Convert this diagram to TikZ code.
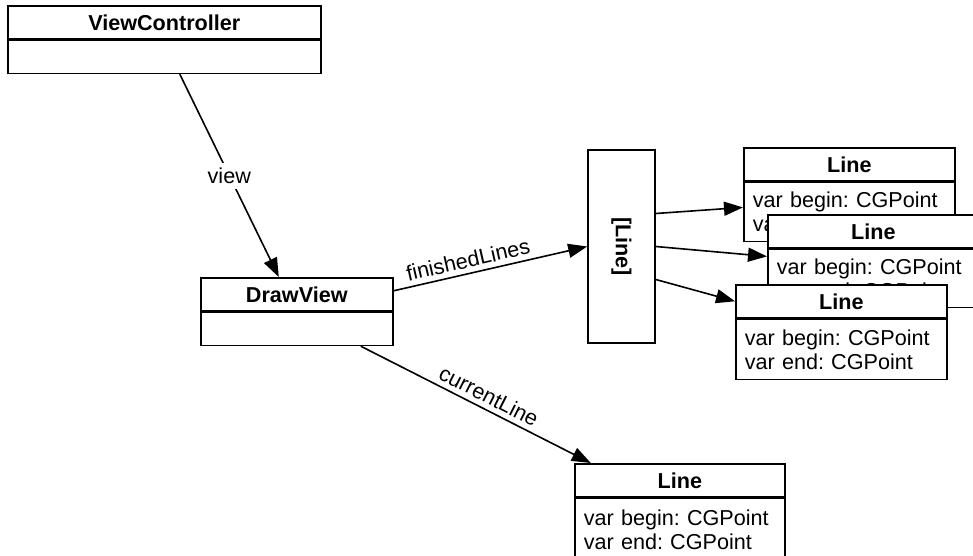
\documentclass[tikz,border=0pt]{standalone}
\usepackage{fontspec}
\setmainfont{Liberation Sans}
\frenchspacing
\usetikzlibrary{positioning,calc,arrows.meta}

\begin{document}
\begin{tikzpicture}[x=0.5pt, y=-0.5pt,
    every node/.style={font=\fontsize{10.8}{12}\selectfont},
    head/.style={draw, fill=white, rectangle, line width=0.8pt, minimum height=16.5pt, inner sep=0pt, font=\fontsize{10.8}{12}\selectfont\bfseries, anchor=north west},
    body/.style={draw, fill=white, rectangle, line width=0.8pt, inner xsep=4.5pt, inner ysep=0pt, align=left},
    arr/.style={-{Triangle[length=9.5pt,width=7pt]}, line width=0.8pt},
    lbl/.style={inner sep=2.5pt}
]
    \useasboundingbox (0,0) rectangle (973,556);
    \clip (0,0) rectangle (973,556);
    \fill[white] (0,0) rectangle (973,556);

    % ViewController
    \node[head, minimum width=156.5pt] (vchead) at (7,5) {ViewController};
    \node[body, minimum width=156.5pt, minimum height=16.5pt, below=0pt of vchead] (vcbody) {};

    % DrawView
    \node[head, minimum width=96pt] (dvhead) at (200,277) {DrawView};
    \node[body, minimum width=96pt, minimum height=16.5pt, below=0pt of dvhead] (dvbody) {};

    % array of lines
    \node[draw, line width=0.8pt, minimum width=33.5pt, minimum height=96.5pt, inner sep=0pt, font=\fontsize{10.8}{12}\selectfont\bfseries] (lst) at (621.5,246.5) {\rotatebox{-90}{[Line]}};

    % Line objects in the array
    \node[head, minimum width=105.5pt] (l1head) at (743,147) {Line};
    \node[body, text width=96.5pt, minimum height=29.5pt, below=0pt of l1head] (l1body) {var begin: CGPoint\\var end: CGPoint};
    \node[head, minimum width=105.5pt] (l2head) at (767,214) {Line};
    \node[body, text width=96.5pt, minimum height=29pt, below=0pt of l2head] (l2body) {var begin: CGPoint\\var end: CGPoint};
    \node[head, minimum width=105.5pt] (l3head) at (735,284) {Line};
    \node[body, text width=96.5pt, minimum height=30pt, below=0pt of l3head] (l3body) {var begin: CGPoint\\var end: CGPoint};

    % current line
    \node[head, minimum width=105pt] (cuhead) at (574,463) {Line};
    \node[body, text width=96pt, minimum height=31.5pt, below=0pt of cuhead] (cubody) {var begin: CGPoint\\var end: CGPoint};

    % Arrows
    \draw[arr] ([xshift=7.75pt]vcbody.south) -- node[lbl, fill=white] (lblview) {view} ([xshift=-9pt]dvhead.north);
    \draw[arr] ([yshift=1.75pt]dvhead.east) -- node[lbl, sloped, above, pos=0.4] (lblfin) {finishedLines} (lst.west);
    \draw[arr] ([xshift=32pt]dvbody.south) -- node[lbl, sloped, above, pos=0.53] (lblcur) {currentLine} ([xshift=-44.5pt]cuhead.north);
    \draw[arr] ([yshift=16.5pt]lst.east) -- ([yshift=2.25pt]l1body.west);
    \draw[arr] (lst.east) -- ([yshift=11pt]l2body.west);
    \draw[arr] ([yshift=-16.5pt]lst.east) -- (l3head.west);
\end{tikzpicture}
\end{document}
